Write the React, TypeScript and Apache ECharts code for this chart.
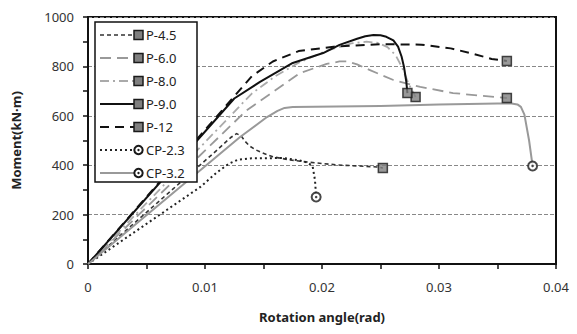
import React, { useEffect, useRef } from "react";
import * as echarts from "echarts";

const seriesNames = ["P-4.5", "P-6.0", "P-8.0", "P-9.0", "P-12", "CP-2.3", "CP-3.2"];

const p45X = [0, 0.011, 0.0122, 0.0127, 0.0131, 0.0134, 0.0138, 0.0143, 0.0149, 0.0158, 0.0173, 0.0187, 0.0213, 0.0247, 0.0252];
const p45Y = [0, 460, 512, 528, 518, 498, 478, 463, 450, 434, 421, 413, 401, 393, 389];

const p60X = [0, 0.0135, 0.0158, 0.0181, 0.0204, 0.0215, 0.0222, 0.023, 0.0241, 0.0261, 0.0284, 0.0312, 0.0358];
const p60Y = [0, 620, 696, 773, 810, 820, 820, 808, 785, 745, 717, 692, 672];

const p80X = [0, 0.014, 0.016, 0.018, 0.0205, 0.0225, 0.0238, 0.0248, 0.0256, 0.0263, 0.0268, 0.0274, 0.028];
const p80Y = [0, 690, 760, 815, 865, 893, 900, 895, 878, 845, 800, 730, 676];

const p90X = [0, 0.0125, 0.0147, 0.0175, 0.0201, 0.0215, 0.023, 0.0237, 0.0244, 0.025, 0.0255, 0.0261, 0.0265, 0.0268, 0.027, 0.0272, 0.0273];
const p90Y = [0, 670, 737, 814, 854, 887, 912, 922, 927, 926, 920, 905, 880, 840, 800, 740, 692];

const p12X = [0, 0.014, 0.0158, 0.018, 0.021, 0.025, 0.0285, 0.031, 0.033, 0.0345, 0.0358];
const p12Y = [0, 760, 820, 862, 880, 890, 888, 873, 850, 830, 822];

const cp23X = [0, 0.0096, 0.011, 0.012, 0.0128, 0.014, 0.0167, 0.018, 0.0188, 0.0192, 0.0194, 0.0195];
const cp23Y = [0, 312, 370, 405, 422, 428, 429, 420, 410, 395, 340, 271];

const cp32X = [0, 0.013, 0.0153, 0.0162, 0.0168, 0.0175, 0.025, 0.03, 0.035, 0.0362, 0.0367, 0.037, 0.0373, 0.0377, 0.038];
const cp32Y = [0, 514, 595, 620, 632, 636, 640, 646, 650, 650, 646, 636, 605, 500, 397];

const xTickLabels = ["0", "0.01", "0.02", "0.03", "0.04"];

const allX = [p45X, p60X, p80X, p90X, p12X, cp23X, cp32X];
const allY = [p45Y, p60Y, p80Y, p90Y, p12Y, cp23Y, cp32Y];

const styles = [
  { color: "#333333", width: 1.6, type: [4, 3] as any, marker: "rect" },
  { color: "#999999", width: 1.8, type: [11, 6] as any, marker: "rect" },
  { color: "#aaaaaa", width: 1.8, type: [9, 4, 2, 4] as any, marker: "rect" },
  { color: "#111111", width: 2, type: "solid" as any, marker: "rect" },
  { color: "#111111", width: 2, type: [9, 6] as any, marker: "rect" },
  { color: "#222222", width: 2, type: [2, 3] as any, marker: "circle" },
  { color: "#999999", width: 2, type: "solid" as any, marker: "circle" },
];

const FONT = "'Noto Sans', 'Open Sans', sans-serif";

export default function App() {
  const ref = useRef<HTMLDivElement>(null);
  useEffect(() => {
    if (!ref.current) return;
    const chart = echarts.init(ref.current, undefined, { renderer: "svg" });

    const series: any[] = [];
    seriesNames.forEach((name, i) => {
      const xs = allX[i];
      const ys = allY[i];
      const st = styles[i];
      series.push({
        name,
        type: "line",
        symbol: "none",
        smooth: false,
        data: xs.map((x, k) => [x, ys[k]]),
        lineStyle: { color: st.color, width: st.width, type: st.type, join: "round" },
        z: 2,
      });
      const last = [xs[xs.length - 1], ys[ys.length - 1]];
      if (st.marker === "rect") {
        series.push({
          type: "scatter",
          symbol: "rect",
          symbolSize: 9,
          data: [last],
          itemStyle: { color: "#7f7f7f", borderColor: "#1a1a1a", borderWidth: 1.5 },
          z: 5,
        });
      } else {
        series.push({
          type: "scatter",
          symbol: "circle",
          symbolSize: 9,
          data: [last],
          itemStyle: { color: "#ffffff", borderColor: "#1a1a1a", borderWidth: 2 },
          z: 5,
        });
        series.push({
          type: "scatter",
          symbol: "circle",
          symbolSize: 2.5,
          data: [last],
          itemStyle: { color: "#1a1a1a" },
          z: 6,
        });
      }
    });

    // custom legend
    const legendChildren: any[] = [
      {
        type: "rect",
        z: 100,
        shape: { x: 95, y: 22, width: 102, height: 160 },
        style: { fill: "#ffffff", stroke: "#111", lineWidth: 1.5 },
      },
    ];
    seriesNames.forEach((name, i) => {
      const st = styles[i];
      const cy = 35 + i * 23;
      legendChildren.push({
        type: "line",
        z: 101,
        shape: { x1: 100, y1: cy, x2: 136, y2: cy },
        style: {
          stroke: st.color,
          lineWidth: st.width,
          lineDash: Array.isArray(st.type) ? st.type : null,
        },
      });
      if (st.marker === "rect") {
        legendChildren.push({
          type: "rect",
          z: 102,
          shape: { x: 134, y: cy - 4.5, width: 9, height: 9 },
          style: { fill: "#7f7f7f", stroke: "#1a1a1a", lineWidth: 1.5 },
        });
      } else {
        legendChildren.push({
          type: "circle",
          z: 102,
          shape: { cx: 138.5, cy, r: 4.2 },
          style: { fill: "#ffffff", stroke: "#1a1a1a", lineWidth: 2 },
        });
        legendChildren.push({
          type: "circle",
          z: 103,
          shape: { cx: 138.5, cy, r: 1.2 },
          style: { fill: "#1a1a1a" },
        });
      }
      legendChildren.push({
        type: "text",
        z: 102,
        x: 146,
        y: cy,
        style: {
          text: name,
          fill: "#222",
          font: `13px ${FONT}`,
          verticalAlign: "middle",
          align: "left",
        },
      });
    });

    chart.setOption({
      animation: false,
      backgroundColor: "#ffffff",
      grid: {
        left: 88,
        right: 21,
        top: 17,
        bottom: 70,
        show: true,
        borderColor: "#111",
        borderWidth: 2,
        containLabel: false,
      },
      xAxis: {
        type: "value",
        min: 0,
        max: 0.04,
        interval: 0.01,
        name: "Rotation angle(rad)",
        nameLocation: "middle",
        nameGap: 46,
        nameTextStyle: { fontFamily: FONT, fontSize: 13, fontWeight: "bold", color: "#222" },
        axisLine: { show: true, lineStyle: { color: "#111", width: 2 } },
        axisTick: { show: true, length: 5, lineStyle: { color: "#111", width: 1.5 } },
        minorTick: { show: true, splitNumber: 2, length: 5, lineStyle: { color: "#111", width: 1.5 } },
        splitLine: { show: false },
        axisLabel: {
          margin: 16,
          fontFamily: FONT,
          fontSize: 13,
          color: "#333",
          formatter: (v: number) => xTickLabels[Math.round(v * 100)] ?? "",
        },
      },
      yAxis: {
        type: "value",
        min: 0,
        max: 1000,
        interval: 200,
        name: "Moment(kN·m)",
        nameLocation: "middle",
        nameGap: 66,
        nameRotate: 90,
        nameTextStyle: { fontFamily: FONT, fontSize: 13, fontWeight: "bold", color: "#222" },
        axisLine: { show: true, lineStyle: { color: "#111", width: 2 } },
        axisTick: { show: true, length: 5, lineStyle: { color: "#111", width: 1.5 } },
        minorTick: { show: true, splitNumber: 2, length: 5, lineStyle: { color: "#111", width: 1.5 } },
        splitLine: { show: true, lineStyle: { color: "#888", type: [4, 2], width: 1 } },
        axisLabel: {
          margin: 14,
          fontFamily: FONT,
          fontSize: 13,
          color: "#333",
          formatter: (v: number) => String(v),
        },
      },
      graphic: [{ type: "group", z: 100, children: legendChildren }],
      series,
    });
    return () => chart.dispose();
  }, []);
  return <div ref={ref} style={{ width: 577, height: 334, position: "absolute", left: 0, top: 0 }} />;
}
